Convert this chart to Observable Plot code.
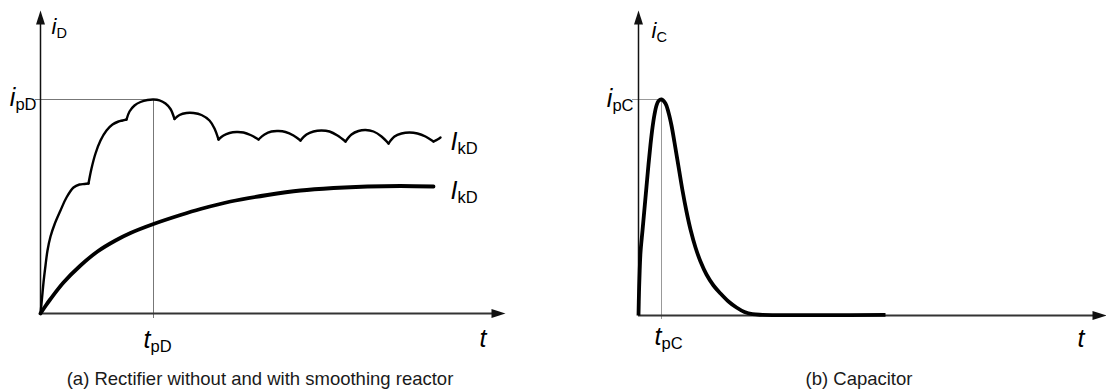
<!DOCTYPE html>
<html>
<head>
<meta charset="utf-8">
<script src="https://cdn.jsdelivr.net/npm/d3@7"></script>
<script src="https://cdn.jsdelivr.net/npm/@observablehq/plot@0.6"></script>
<style>
  html, body { margin: 0; padding: 0; background: #fff; }
  #wrap { position: relative; width: 1106px; height: 390px; overflow: hidden; font-family: "Liberation Sans", Arial, sans-serif; }
  #panels { display: flex; }
  .cap { position: absolute; top: 368px; font-size: 18.5px; color: #1a1a1a; white-space: nowrap; transform: translateX(-50%); }
</style>
</head>
<body>
<div id="wrap">
  <div id="panels"></div>
  <div class="cap" id="capA" style="left:260px"></div>
  <div class="cap" id="capB" style="left:859px"></div>
</div>
<script>
// ---------- data (arbitrary units) ----------
// Panel (a): rectifier current without smoothing reactor (ripple)
const rippleT = [0,0.15,0.3,0.5,0.7,1.0,1.4,2.0,2.6,3.3,3.9,4.4,4.8,
  5.1,5.5,6.0,6.6,7.2,7.8,8.2,8.6,
  8.9,9.4,10.0,10.7,11.3,11.9,12.5,13.0,13.4,
  13.9,14.6,15.3,16.1,16.9,17.4,17.8,
  18.3,18.9,19.6,20.3,21.0,21.8,
  22.4,23.1,23.8,24.5,25.3,26.0,
  26.6,27.3,28.1,28.9,29.7,30.5,
  31.1,31.8,32.5,33.3,34.1,34.8,
  35.4,36.1,36.9,37.7,38.5,39.3,
  39.7,40.0];
const rippleI = [0,1.5,3.1,4.8,6.3,7.7,8.9,10.3,11.6,12.6,12.9,12.95,13.0,
  14.5,16.0,17.3,18.3,18.9,19.2,19.3,19.4,
  20.2,20.8,21.15,21.35,21.4,21.32,21.0,20.45,19.45,
  19.85,20.05,20.05,19.85,19.3,18.5,17.4,
  17.8,18.05,18.15,18.1,17.85,17.4,
  17.9,18.2,18.25,18.15,17.8,17.3,
  17.9,18.2,18.3,18.2,17.8,17.2,
  17.9,18.25,18.35,18.2,17.7,17.0,
  17.7,18.0,18.1,18.0,17.7,17.2,
  17.4,17.6];
const rippleCuspT = [4.8, 8.6, 13.4, 17.8, 21.8, 26.0, 30.5, 34.8, 39.3];

// Panel (a): rectifier current with smoothing reactor
const smoothT = [0,0.5,1.0,2.3,4.0,5.7,7.5,9.0,11.3,14.0,16.0,19.0,22.7,26.0,29.3,32.7,36.0,39.3];
const smoothI = [0,0.75,1.45,3.1,4.8,6.2,7.3,8.05,8.95,9.85,10.45,11.2,11.85,12.3,12.55,12.7,12.75,12.7];

const tPeakD = 11.3, iPeakD = 21.4;
const tMaxD = 46.5, iMaxD = 30.3;

// Panel (b): capacitor current
const capT = [0,0.05,0.12,0.2,0.4,0.6,0.8,1.0,1.2,1.4,1.6,1.8,2.0,2.3,2.7,3.0,3.3,3.6,4.0,4.4,4.8,5.2,5.7,6.2,6.8,7.5,8.2,9.0,9.8,10.6,11.4,12.4,24.7];
const capI = [0,2.3,4.5,6.3,8.5,10.7,12.9,15.1,17.1,18.8,20.1,21.0,21.45,21.6,21.2,20.3,19.0,17.3,14.9,12.5,10.4,8.6,6.8,5.4,4.1,3.0,2.2,1.4,0.8,0.35,0.13,0.07,0.07];
const tPeakC = 2.3, iPeakC = 21.6;
const tMaxC = 46.8, iMaxC = 30.5;

// Texts
const labelsA = {iAxis: "i_D", iPeak: "i_pD", ripple: "I_kD", smooth: "I_kD", tPeak: "t_pD", tAxis: "t"};
const labelsB = {iAxis: "i_C", iPeak: "i_pC", tPeak: "t_pC", tAxis: "t"};
const captions = ["(a) Rectifier without and with smoothing reactor", "(b) Capacitor"];

// ---------- build tables ----------
const ripple = [];
let seg = 0;
rippleT.forEach((t, k) => {
  ripple.push({t, i: rippleI[k], seg});
  if (rippleCuspT.includes(t)) { seg++; ripple.push({t, i: rippleI[k], seg}); }
});
const smooth = smoothT.map((t, k) => ({t, i: smoothI[k]}));
const cap = capT.map((t, k) => ({t, i: capI[k]}));

// filled arrow head, tip at origin pointing up
const arrowHead = { draw(ctx) { ctx.moveTo(0, 0); ctx.lineTo(4.5, 14); ctx.lineTo(-4.5, 14); ctx.closePath(); } };

const font = "'Liberation Sans', Arial, sans-serif";
function lbl(x, y, text, o) {
  return Plot.text([{x, y, text}], {x: "x", y: "y", text: "text", lineAnchor: "bottom",
    textAnchor: o.anchor || "start", dx: o.dx, dy: o.dy, fontSize: o.size, fill: "#000"});
}

function axes(tMax, iMax) {
  return [
    Plot.ruleY([0], {x1: 0, x2: tMax - 0.8, stroke: "#333", strokeWidth: 1.8}),
    Plot.ruleX([0], {y1: 0, y2: iMax - 1, stroke: "#111", strokeWidth: 1.5}),
    Plot.dot([{x: tMax, y: 0}], {x: "x", y: "y", symbol: arrowHead, fill: "#111", stroke: "none", rotate: 90}),
    Plot.dot([{x: 0, y: iMax}], {x: "x", y: "y", symbol: arrowHead, fill: "#111", stroke: "none"})
  ];
}

const common = {width: 553, height: 362, marginTop: 10,
  style: {fontFamily: font, background: "white", overflow: "visible"}};

const plotA = Plot.plot({
  ...common, marginLeft: 40, marginRight: 48, marginBottom: 49,
  x: {domain: [0, tMaxD], axis: null},
  y: {domain: [0, iMaxD], axis: null},
  marks: [
    Plot.ruleY([iPeakD], {x1: -0.5, x2: tPeakD, stroke: "#777", strokeWidth: 1}),
    Plot.ruleX([tPeakD], {y1: -0.5, y2: iPeakD, stroke: "#777", strokeWidth: 1}),
    ...axes(tMaxD, iMaxD),
    Plot.line(smooth, {x: "t", y: "i", curve: "catmull-rom", stroke: "#000", strokeWidth: 3.8, strokeLinecap: "round"}),
    Plot.line(ripple, {x: "t", y: "i", z: "seg", curve: "catmull-rom", stroke: "#000", strokeWidth: 2.4, strokeLinecap: "round", strokeLinejoin: "round"}),
    lbl(0, iMaxD, labelsA.iAxis, {dx: 11, dy: 23, size: 22}),
    lbl(0, iPeakD, labelsA.iPeak, {dx: -4, dy: 6, size: 25, anchor: "end"}),
    lbl(rippleT[rippleT.length - 1], rippleI[rippleI.length - 1], labelsA.ripple, {dx: 10, dy: 12, size: 25}),
    lbl(smoothT[smoothT.length - 1], smoothI[smoothI.length - 1], labelsA.smooth, {dx: 17, dy: 12, size: 25}),
    lbl(tPeakD, 0, labelsA.tPeak, {dx: -10, dy: 34, size: 25}),
    lbl(tMaxD, 0, labelsA.tAxis, {dx: -26, dy: 33, size: 25})
  ]
});

const plotB = Plot.plot({
  ...common, marginLeft: 85, marginRight: 0, marginBottom: 47,
  x: {domain: [0, tMaxC], axis: null},
  y: {domain: [0, iMaxC], axis: null},
  marks: [
    Plot.ruleY([iPeakC], {x1: -0.6, x2: tPeakC, stroke: "#999", strokeWidth: 1}),
    Plot.ruleX([tPeakC], {y1: -0.4, y2: iPeakC, stroke: "#999", strokeWidth: 1}),
    ...axes(tMaxC, iMaxC),
    Plot.line(cap, {x: "t", y: "i", curve: "catmull-rom", stroke: "#000", strokeWidth: 3.8, strokeLinecap: "butt", strokeLinejoin: "round"}),
    lbl(0, iMaxC, labelsB.iAxis, {dx: 13, dy: 27, size: 22}),
    lbl(0, iPeakC, labelsB.iPeak, {dx: -5, dy: 7, size: 25, anchor: "end"}),
    lbl(tPeakC, 0, labelsB.tPeak, {dx: -7, dy: 29, size: 25}),
    lbl(tMaxC, 0, labelsB.tAxis, {dx: -29, dy: 31, size: 25})
  ]
});

// italic main letter + upright subscript
function subscriptify(svg) {
  d3.select(svg).selectAll("text").each(function () {
    const s = this.textContent;
    const el = d3.select(this);
    el.text(null);
    const [main, sub] = s.split("_");
    el.append("tspan").attr("font-style", "italic").text(main);
    if (sub) el.append("tspan").attr("font-size", "0.66em").attr("dy", "0.3em").text(sub);
  });
}
subscriptify(plotA);
subscriptify(plotB);

document.getElementById("panels").append(plotA, plotB);
document.getElementById("capA").textContent = captions[0];
document.getElementById("capB").textContent = captions[1];
</script>
</body>
</html>
